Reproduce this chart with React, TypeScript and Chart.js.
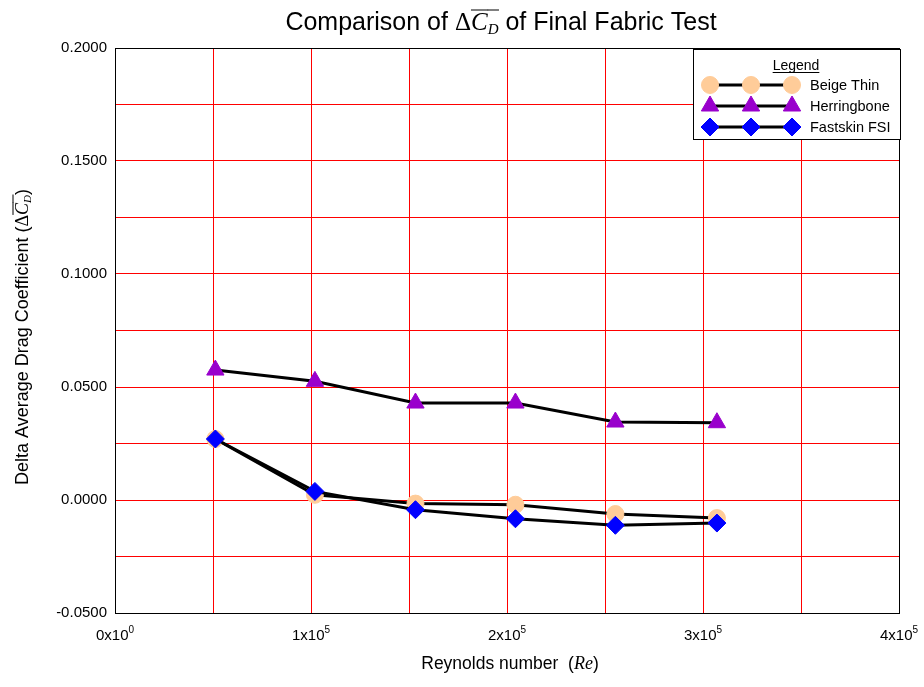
import React, { useEffect, useRef } from 'react';
import { Chart, registerables } from 'chart.js';
import { drawPoint } from 'chart.js/helpers';
Chart.register(...registerables);

// ---- data ----
const reynolds = [51200, 102000, 153300, 204300, 255300, 307100];
const beigeThin = [0.027, 0.0023, -0.0016, -0.0021, -0.0062, -0.008];
const herringbone = [0.0575, 0.0525, 0.0429, 0.0429, 0.0345, 0.0342];
const fastskin = [0.027, 0.0038, -0.0043, -0.0083, -0.0112, -0.0102];
const seriesNames = ['Beige Thin', 'Herringbone', 'Fastskin FSI'];
const xTickMantissa = ['0', '1', '2', '3', '4'];
const xTickExponent = ['0', '5', '5', '5', '5'];

const SANS = '"Liberation Sans", Arial, sans-serif';
const SERIF = '"Liberation Serif", "Times New Roman", serif';

type Seg = { t: string; f: string; dy?: number; over?: boolean };

function richWidth(ctx: CanvasRenderingContext2D, segs: Seg[]) {
  let w = 0;
  for (const s of segs) {
    ctx.font = s.f;
    w += ctx.measureText(s.t).width;
  }
  return w;
}

function drawRich(ctx: CanvasRenderingContext2D, segs: Seg[], x: number, y: number, overY: number) {
  let cx = x;
  ctx.textBaseline = 'alphabetic';
  ctx.textAlign = 'left';
  for (const s of segs) {
    ctx.font = s.f;
    const w = ctx.measureText(s.t).width;
    ctx.fillText(s.t, cx, y + (s.dy || 0));
    if (s.over) {
      ctx.save();
      ctx.lineWidth = 1;
      ctx.strokeStyle = ctx.fillStyle as string;
      ctx.beginPath();
      ctx.moveTo(cx, y + overY);
      ctx.lineTo(cx + w + 0.5, y + overY);
      ctx.stroke();
      ctx.restore();
    }
    cx += w;
  }
}

const decorPlugin = {
  id: 'decor',
  afterDraw(chart: any) {
    const ctx: CanvasRenderingContext2D = chart.ctx;
    const area = chart.chartArea;
    const xs = chart.scales.x;
    ctx.save();
    // plot border
    ctx.strokeStyle = '#000';
    ctx.lineWidth = 1;
    ctx.strokeRect(Math.round(area.left) + 0.5, Math.round(area.top) + 0.5, Math.round(area.right - area.left), Math.round(area.bottom - area.top));

    ctx.fillStyle = '#000';
    // x tick labels with superscript exponent
    xTickMantissa.forEach((m, i) => {
      const segs: Seg[] = [
        { t: m + 'x10', f: `15px ${SANS}` },
        { t: xTickExponent[i], f: `10px ${SANS}`, dy: -7 },
      ];
      const w = richWidth(ctx, segs);
      const px = xs.getPixelForValue(i * 100000);
      drawRich(ctx, segs, px - w / 2, 640, 0);
    });

    // title
    const title: Seg[] = [
      { t: 'Comparison of ', f: `25px ${SANS}` },
      { t: '\u0394', f: `25px ${SERIF}` },
      { t: 'C', f: `italic 25px ${SERIF}`, over: true },
      { t: 'D', f: `italic 15px ${SERIF}`, dy: 4, over: true },
      { t: ' of Final Fabric Test', f: `25px ${SANS}` },
    ];
    const tw = richWidth(ctx, title);
    drawRich(ctx, title, 501 - tw / 2, 30, -20);

    // x axis title
    const xt: Seg[] = [
      { t: 'Reynolds number  (', f: `17.5px ${SANS}` },
      { t: 'Re', f: `italic 18px ${SERIF}` },
      { t: ')', f: `17.5px ${SANS}` },
    ];
    const xw = richWidth(ctx, xt);
    drawRich(ctx, xt, 510 - xw / 2, 669, 0);

    // y axis title
    const yt: Seg[] = [
      { t: 'Delta Average Drag Coefficient (', f: `18px ${SANS}` },
      { t: '\u0394', f: `18px ${SERIF}` },
      { t: 'C', f: `italic 18px ${SERIF}`, over: true },
      { t: 'D', f: `italic 11px ${SERIF}`, dy: 3, over: true },
      { t: ')', f: `18px ${SANS}` },
    ];
    const yw = richWidth(ctx, yt);
    ctx.save();
    ctx.translate(28, 337);
    ctx.rotate(-Math.PI / 2);
    drawRich(ctx, yt, -yw / 2, 0, -15);
    ctx.restore();

    // legend
    const lx = 693, ly = 49, lw = 207, lh = 90;
    ctx.fillStyle = '#fff';
    ctx.fillRect(lx, ly, lw, lh);
    ctx.strokeStyle = '#000';
    ctx.lineWidth = 1;
    ctx.strokeRect(lx + 0.5, ly + 0.5, lw, lh);
    ctx.fillStyle = '#000';
    ctx.font = `14px ${SANS}`;
    ctx.textAlign = 'center';
    ctx.textBaseline = 'alphabetic';
    ctx.fillText('Legend', 796, 70);
    const lgW = ctx.measureText('Legend').width;
    ctx.beginPath();
    ctx.moveTo(796 - lgW / 2, 72.5);
    ctx.lineTo(796 + lgW / 2, 72.5);
    ctx.stroke();

    seriesNames.forEach((name, i) => {
      const ds = chart.data.datasets.find((d: any) => d.label === name);
      const y = 85 + i * 21;
      ctx.strokeStyle = '#000';
      ctx.lineWidth = 3;
      ctx.beginPath();
      ctx.moveTo(710, y);
      ctx.lineTo(792, y);
      ctx.stroke();
      [710, 751, 792].forEach((mx) => {
        ctx.fillStyle = ds.pointBackgroundColor;
        ctx.strokeStyle = ds.pointBorderColor;
        ctx.lineWidth = 1;
        drawPoint(ctx, { pointStyle: ds.pointStyle, radius: ds.pointRadius, rotation: 0, borderWidth: 1 } as any, mx, y);
      });
      ctx.fillStyle = '#000';
      ctx.font = `14.5px ${SANS}`;
      ctx.textAlign = 'left';
      ctx.textBaseline = 'middle';
      ctx.fillText(name, 810, y + 1);
    });
    ctx.restore();
  },
};

export default function App() {
  const ref = useRef<HTMLCanvasElement | null>(null);
  useEffect(() => {
    if (!ref.current) return;
    const mk = (vals: number[]) => reynolds.map((x, i) => ({ x, y: vals[i] }));
    const chart = new Chart(ref.current, {
      type: 'line',
      data: {
        datasets: [
          {
            label: seriesNames[2],
            data: mk(fastskin),
            borderColor: '#000',
            borderWidth: 3,
            pointStyle: 'rectRot',
            pointRadius: 9,
            pointBackgroundColor: '#0000ff',
            pointBorderColor: '#0000ff',
            pointBorderWidth: 1,
            tension: 0,
          },
          {
            label: seriesNames[1],
            data: mk(herringbone),
            borderColor: '#000',
            borderWidth: 3,
            pointStyle: 'triangle',
            pointRadius: 10,
            pointBackgroundColor: '#9900cc',
            pointBorderColor: '#9900cc',
            pointBorderWidth: 1,
            tension: 0,
          },
          {
            label: seriesNames[0],
            data: mk(beigeThin),
            borderColor: '#000',
            borderWidth: 3,
            pointStyle: 'circle',
            pointRadius: 8.5,
            pointBackgroundColor: '#ffcc99',
            pointBorderColor: '#ffcc99',
            pointBorderWidth: 1,
            tension: 0,
          },
        ],
      },
      options: {
        responsive: false,
        animation: false,
        layout: { padding: { left: 0, top: 48, right: 25, bottom: 0 } },
        plugins: {
          legend: { display: false },
          title: { display: false },
          tooltip: { enabled: false },
        },
        scales: {
          x: {
            type: 'linear',
            min: 0,
            max: 400000,
            afterFit: (s: any) => {
              s.height = 74;
              s.paddingLeft = 0;
              s.paddingRight = 0;
            },
            ticks: {
              stepSize: 50000,
              autoSkip: false,
              maxRotation: 0,
              padding: 12,
              color: '#000',
              font: { family: SANS, size: 15 },
              callback: () => '',
            },
            grid: { color: '#ff0000', lineWidth: 1, drawTicks: false },
            border: { color: '#000', width: 1 },
          },
          y: {
            type: 'linear',
            min: -0.05,
            max: 0.2,
            afterFit: (s: any) => {
              s.width = 115;
              s.paddingTop = 0;
              s.paddingBottom = 0;
            },
            ticks: {
              stepSize: 0.025,
              autoSkip: false,
              padding: 8,
              color: '#000',
              font: { family: SANS, size: 15 },
              callback: (v: any) => {
                const n = Math.round(Number(v) * 10000);
                if (n % 500 !== 0) return '';
                return (n / 10000).toFixed(4);
              },
            },
            grid: { color: '#ff0000', lineWidth: 1, drawTicks: false },
            border: { color: '#000', width: 1 },
          },
        },
      },
      plugins: [decorPlugin],
    } as any);
    return () => chart.destroy();
  }, []);
  return (
    <div style={{ position: 'absolute', left: 0, top: 0, width: 924, height: 687, background: '#fff' }}>
      <canvas ref={ref} width={924} height={687} style={{ width: 924, height: 687 }} />
    </div>
  );
}
